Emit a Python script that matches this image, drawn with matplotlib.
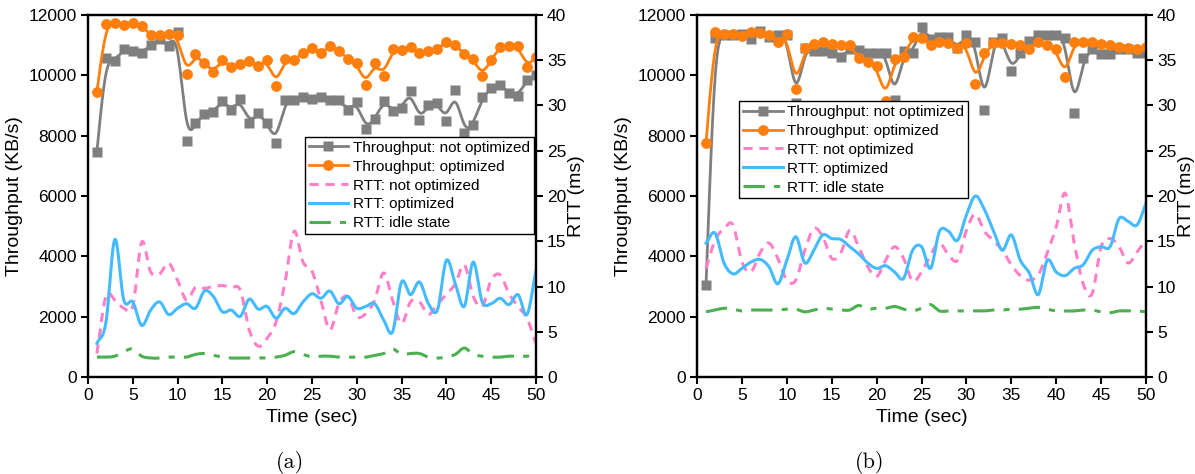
import numpy as np
import matplotlib
matplotlib.use("Agg")
import matplotlib.pyplot as plt
from matplotlib.lines import Line2D

plt.rcParams['font.family'] = ['Liberation Sans', 'DejaVu Sans']

# --- data (one value per second, t = 1..50) ---
time_s = np.arange(1, 51)

# panel (a)
tp_not_a = [7470, 10560, 10490, 10860, 10810, 10730, 11010, 11190, 10970, 11440,
            7820, 8410, 8720, 8790, 9160, 8850, 9200, 8410, 8740, 8430,
            7750, 9180, 9180, 9270, 9220, 9270, 9180, 9180, 8850, 9130,
            8220, 8540, 9160, 8830, 8910, 9490, 8520, 9020, 9090, 8500,
            9510, 8100, 8350, 9270, 9570, 9680, 9430, 9320, 9850, 10010]
tp_opt_a = [9460, 11700, 11750, 11670, 11750, 11640, 11320, 11320, 11370, 11320,
            10030, 10700, 10400, 10110, 10510, 10270, 10370, 10490, 10320, 10510,
            9660, 10550, 10510, 10730, 10900, 10730, 10970, 10820, 10540, 10400,
            9680, 10420, 9990, 10860, 10840, 10950, 10730, 10810, 10870, 11120,
            11010, 10700, 10530, 9990, 10510, 10950, 10970, 10980, 10270, 10600]
rtt_not_a = [2.6, 8.9, 8.5, 7.6, 7.8, 14.9, 11.6, 11.4, 12.6, 10.7,
             8.5, 9.9, 9.8, 10.0, 10.1, 9.9, 9.6, 5.2, 3.4, 4.3,
             6.1, 10.5, 16.1, 12.7, 11.7, 8.5, 5.2, 8.1, 8.9, 6.7,
             7.0, 8.5, 11.5, 8.5, 5.9, 8.3, 8.3, 6.9, 8.1, 9.1,
             10.3, 12.4, 8.9, 7.8, 10.7, 11.3, 9.2, 7.8, 6.5, 3.7]
rtt_opt_a = [3.7, 6.0, 15.2, 8.5, 8.3, 5.7, 7.4, 8.3, 6.9, 7.6,
             8.1, 7.6, 9.5, 8.9, 7.2, 7.4, 6.7, 8.6, 7.5, 7.8,
             6.5, 7.6, 7.0, 8.3, 9.2, 8.7, 9.5, 8.1, 8.9, 7.6,
             7.8, 8.1, 6.3, 5.0, 10.5, 9.1, 10.5, 8.1, 7.4, 12.9,
             10.3, 7.8, 12.7, 8.3, 8.1, 8.7, 8.0, 9.1, 6.9, 11.8]
rtt_idle_a = [2.2, 2.2, 2.3, 2.8, 3.1, 2.3, 2.1, 2.1, 2.2, 2.2,
              2.2, 2.5, 2.6, 2.4, 2.2, 2.1, 2.1, 2.1, 2.1, 2.1,
              2.2, 2.4, 2.8, 2.5, 2.2, 2.3, 2.3, 2.2, 2.2, 2.2,
              2.2, 2.4, 2.6, 3.1, 2.5, 2.6, 2.6, 2.2, 2.1, 2.2,
              2.5, 3.2, 2.5, 2.3, 2.2, 2.2, 2.3, 2.3, 2.3, 2.4]

# panel (b)
tp_not_b = [3050, 11230, 11340, 11340, 11370, 11190, 11480, 11260, 11340, 11330,
            9070, 10900, 10820, 10790, 10730, 10600, 10860, 10850, 10730, 10750,
            10750, 9180, 10790, 10730, 11610, 11190, 11280, 11260, 10900, 11320,
            11120, 8850, 11120, 11230, 10130, 10730, 11150, 11320, 11320, 11320,
            11230, 8750, 10560, 10860, 10710, 10710, 10860, 10860, 10750, 10750]
tp_opt_b = [7750, 11420, 11360, 11360, 11300, 11420, 11390, 11340, 11120, 11370,
            9540, 10900, 11030, 11090, 11030, 11010, 11010, 10560, 10430, 10310,
            9150, 10530, 10620, 11260, 11230, 11010, 11090, 11060, 10900, 11060,
            9710, 10730, 11060, 11060, 11030, 11010, 10860, 11120, 11010, 10860,
            9930, 11120, 11090, 11090, 11040, 11010, 10930, 10900, 10870, 10930]
rtt_not_b = [12.0, 15.1, 16.4, 16.8, 12.7, 11.6, 13.7, 14.8, 13.1, 10.7,
             10.7, 14.0, 16.4, 15.5, 13.1, 13.7, 16.2, 14.4, 12.2, 11.1,
             12.9, 14.4, 13.1, 10.6, 11.6, 13.5, 14.8, 13.5, 12.9, 16.2,
             18.0, 16.1, 15.1, 14.0, 12.4, 11.2, 10.7, 11.3, 13.7, 16.6,
             20.3, 14.8, 10.3, 9.2, 14.4, 15.3, 14.4, 12.6, 13.8, 15.2]
rtt_opt_b = [14.8, 15.9, 12.6, 11.4, 12.0, 12.7, 13.0, 12.2, 10.3, 12.9,
             15.5, 12.6, 14.0, 15.7, 15.3, 15.2, 14.4, 13.6, 12.6, 12.0,
             12.3, 11.6, 10.9, 14.0, 14.4, 12.0, 16.1, 16.1, 15.1, 17.9,
             20.0, 18.5, 16.2, 14.0, 15.7, 12.9, 11.5, 9.1, 12.9, 11.6,
             11.2, 12.0, 12.4, 14.0, 14.4, 14.4, 17.5, 17.2, 16.8, 19.2]
rtt_idle_b = [7.2, 7.4, 7.6, 7.5, 7.3, 7.4, 7.4, 7.4, 7.4, 7.5,
              7.5, 7.2, 7.4, 7.6, 7.5, 7.4, 7.4, 7.9, 7.5, 7.6,
              7.6, 7.8, 7.5, 7.3, 7.6, 8.0, 7.3, 7.3, 7.3, 7.3,
              7.3, 7.3, 7.4, 7.4, 7.5, 7.5, 7.6, 7.7, 7.5, 7.3,
              7.3, 7.3, 7.4, 7.4, 7.2, 7.1, 7.3, 7.3, 7.3, 7.2]

labels = ["Throughput: not optimized", "Throughput: optimized",
          "RTT: not optimized", "RTT: optimized", "RTT: idle state"]

GRAY = "#7f7f7f"
ORANGE = "#ff7f0e"
PINK = "#ff7fc8"
BLUE = "#44bbff"
GREEN = "#4caf50"
IDLE_DASH = (7, 3, 2, 3)


def bspline(x, y, n=20):
    """Uniform cubic B-spline with the points as control points (ends clamped)."""
    y = np.asarray(y, dtype=float)
    p = np.concatenate([[2 * y[0] - y[1]], y, [2 * y[-1] - y[-2]]])
    xs, ys = [], []
    u = np.linspace(0, 1, n, endpoint=False)
    for i in range(1, len(p) - 2):
        b0 = (1 - u) ** 3
        b1 = 3 * u ** 3 - 6 * u ** 2 + 4
        b2 = -3 * u ** 3 + 3 * u ** 2 + 3 * u + 1
        b3 = u ** 3
        ys.append((b0 * p[i - 1] + b1 * p[i] + b2 * p[i + 1] + b3 * p[i + 2]) / 6)
        xs.append(x[i - 1] + u * (x[i] - x[i - 1]))
    xs.append([x[-1]])
    ys.append([y[-1]])
    return np.concatenate(xs), np.concatenate(ys)


def catmull(x, y, n=20):
    """Catmull-Rom curve through the points."""
    y = np.asarray(y, dtype=float)
    p = np.concatenate([[2 * y[0] - y[1]], y, [2 * y[-1] - y[-2]]])
    xs, ys = [], []
    u = np.linspace(0, 1, n, endpoint=False)
    for i in range(1, len(p) - 2):
        p0, p1, p2, p3 = p[i - 1], p[i], p[i + 1], p[i + 2]
        ys.append(0.5 * (2 * p1 + (-p0 + p2) * u + (2 * p0 - 5 * p1 + 4 * p2 - p3) * u ** 2
                         + (-p0 + 3 * p1 - 3 * p2 + p3) * u ** 3))
        xs.append(x[i - 1] + u * (x[i] - x[i - 1]))
    xs.append([x[-1]])
    ys.append([y[-1]])
    return np.concatenate(xs), np.concatenate(ys)


def draw_panel(rect, tp_not, tp_opt, rtt_not, rtt_opt, rtt_idle, leg_anchor):
    ax = fig.add_axes(rect)
    ax2 = ax.twinx()

    sx, sy = bspline(time_s, tp_not)
    ax.plot(sx, sy, color=GRAY, lw=2, zorder=2)
    ax.plot(time_s, tp_not, 's', color=GRAY, ms=6.5, mec='none', zorder=2)
    sx, sy = bspline(time_s, tp_opt)
    ax.plot(sx, sy, color=ORANGE, lw=2, zorder=3)
    ax.plot(time_s, tp_opt, 'o', color=ORANGE, ms=7.8, mec='none', zorder=3)

    sx, sy = catmull(time_s, rtt_not)
    ax2.plot(sx, sy, color=PINK, lw=2.2, dashes=(3, 2.2))
    sx, sy = catmull(time_s, rtt_opt)
    ax2.plot(sx, sy, color=BLUE, lw=2.2)
    sx, sy = catmull(time_s, rtt_idle)
    ax2.plot(sx, sy, color=GREEN, lw=2.2, dashes=IDLE_DASH)

    ax.set_xlim(0, 50)
    ax.set_ylim(0, 12000)
    ax2.set_ylim(0, 40)
    ax.set_xticks(np.arange(0, 51, 5))
    ax.set_yticks(np.arange(0, 12001, 2000))
    ax2.set_yticks(np.arange(0, 41, 5))
    ax.set_xlabel("Time (sec)", fontsize=14, labelpad=4)
    ax.set_ylabel("Throughput (KB/s)", fontsize=14, labelpad=4)
    ax2.set_ylabel("RTT (ms)", fontsize=14, labelpad=1)
    for a in (ax, ax2):
        a.tick_params(direction='out', length=5, width=1.5, labelsize=12.5, pad=3)
        for s in a.spines.values():
            s.set_linewidth(1.6)

    handles = [
        Line2D([], [], color=GRAY, lw=2, marker='s', ms=6.5, mec='none'),
        Line2D([], [], color=ORANGE, lw=2, marker='o', ms=7.8, mec='none'),
        Line2D([], [], color=PINK, lw=2.2, dashes=(3, 2.2)),
        Line2D([], [], color=BLUE, lw=2.2),
        Line2D([], [], color=GREEN, lw=2.2, dashes=IDLE_DASH),
    ]
    leg = ax2.legend(handles, labels, loc='upper left', bbox_to_anchor=leg_anchor,
                     borderaxespad=0, fontsize=11, frameon=True, fancybox=False,
                     framealpha=1, edgecolor='black', labelspacing=0.32,
                     borderpad=0.25, handlelength=2.6, handletextpad=0.3)
    leg.get_frame().set_linewidth(1.0)
    return ax


fig = plt.figure(figsize=(11.95, 4.74), dpi=100)
draw_panel([0.0736, 0.2046, 0.3749, 0.7638], tp_not_a, tp_opt_a,
           rtt_not_a, rtt_opt_a, rtt_idle_a, (0.484, 0.663))
draw_panel([0.5833, 0.2046, 0.3757, 0.7638], tp_not_b, tp_opt_b,
           rtt_not_b, rtt_opt_b, rtt_idle_b, (0.0935, 0.762))

fig.text(0.2427, 0.024, "(a)", ha='center', va='center', fontsize=16, family='cmr10')
fig.text(0.728, 0.024, "(b)", ha='center', va='center', fontsize=16, family='cmr10')

fig.savefig("out.png", dpi=100)
